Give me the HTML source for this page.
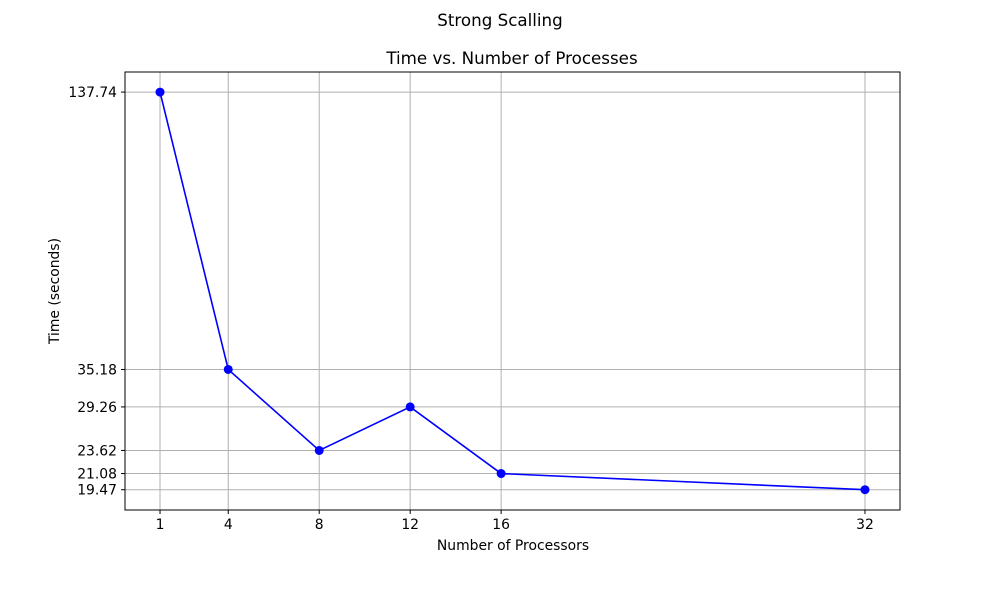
<!DOCTYPE html>
<html><head><meta charset="utf-8"><style>body{margin:0;background:#fff}svg{font-family:"DejaVu Sans","Liberation Sans",sans-serif}</style></head>
<body>
<svg id="chart" width="1000" height="600">
<rect width="1000" height="600" fill="#fff"/>
<text x="500" y="26" text-anchor="middle" font-size="16.7">Strong Scalling</text>
<text x="512" y="64" text-anchor="middle" font-size="16.7">Time vs. Number of Processes</text>
<text x="513" y="550" text-anchor="middle" font-size="13.9">Number of Processors</text>
<text transform="translate(59,291) rotate(-90)" text-anchor="middle" font-size="13.9">Time (seconds)</text>
<g id="grid"></g><g id="ticks"></g><g id="series"></g>
<rect x="125" y="72" width="775" height="438" fill="none" stroke="#000" stroke-width="1"/>
</svg>
<script>
const processors=[1,4,8,12,16,32];
const times=[137.74,35.18,23.62,29.26,21.08,19.47];
const yTicks=[137.74,35.18,29.26,23.62,21.08,19.47];
const L=125,R=900,T=72,B=510;
const xMin=-0.54,xMax=33.54,yLogMin=1.246,yLogMax=2.182;
const xs=v=>L+(v-xMin)/(xMax-xMin)*(R-L);
const ys=v=>B-(Math.log10(v)-yLogMin)/(yLogMax-yLogMin)*(B-T);
const NS='http://www.w3.org/2000/svg';
function mk(tag,attrs,parent){const e=document.createElementNS(NS,tag);for(const k in attrs)e.setAttribute(k,attrs[k]);document.getElementById(parent).appendChild(e);return e;}
processors.forEach(p=>{const x=xs(p);
 const g=mk('line',{x1:x,x2:x,y1:T,y2:B,stroke:'#b0b0b0','stroke-width':1},'grid');
 
 
 mk('line',{x1:x,x2:x,y1:B,y2:B+4,stroke:'#000'},'ticks');
 const t=mk('text',{x:x,y:B+19,'text-anchor':'middle','font-size':13.9},'ticks');t.textContent=p;
 
 
});
yTicks.forEach(v=>{const y=ys(v);
 const g=mk('line',{x1:L,x2:R,y1:y,y2:y,stroke:'#b0b0b0','stroke-width':1},'grid');
 
 
 mk('line',{x1:L-4,x2:L,y1:y,y2:y,stroke:'#000'},'ticks');
 const t=mk('text',{x:L-8,y:y+5,'text-anchor':'end','font-size':13.9},'ticks');t.textContent=v.toFixed(2);
 
 
});
const pl=mk('polyline',{points:processors.map((p,i)=>xs(p)+','+ys(times[i])).join(' '),fill:'none',stroke:'#0000ff','stroke-width':1.6},'series');


processors.forEach((p,i)=>{const c=mk('circle',{cx:xs(p),cy:ys(times[i]),r:4.5,fill:'#0000ff'},'series');
 
 
});
</script>
</body></html>
